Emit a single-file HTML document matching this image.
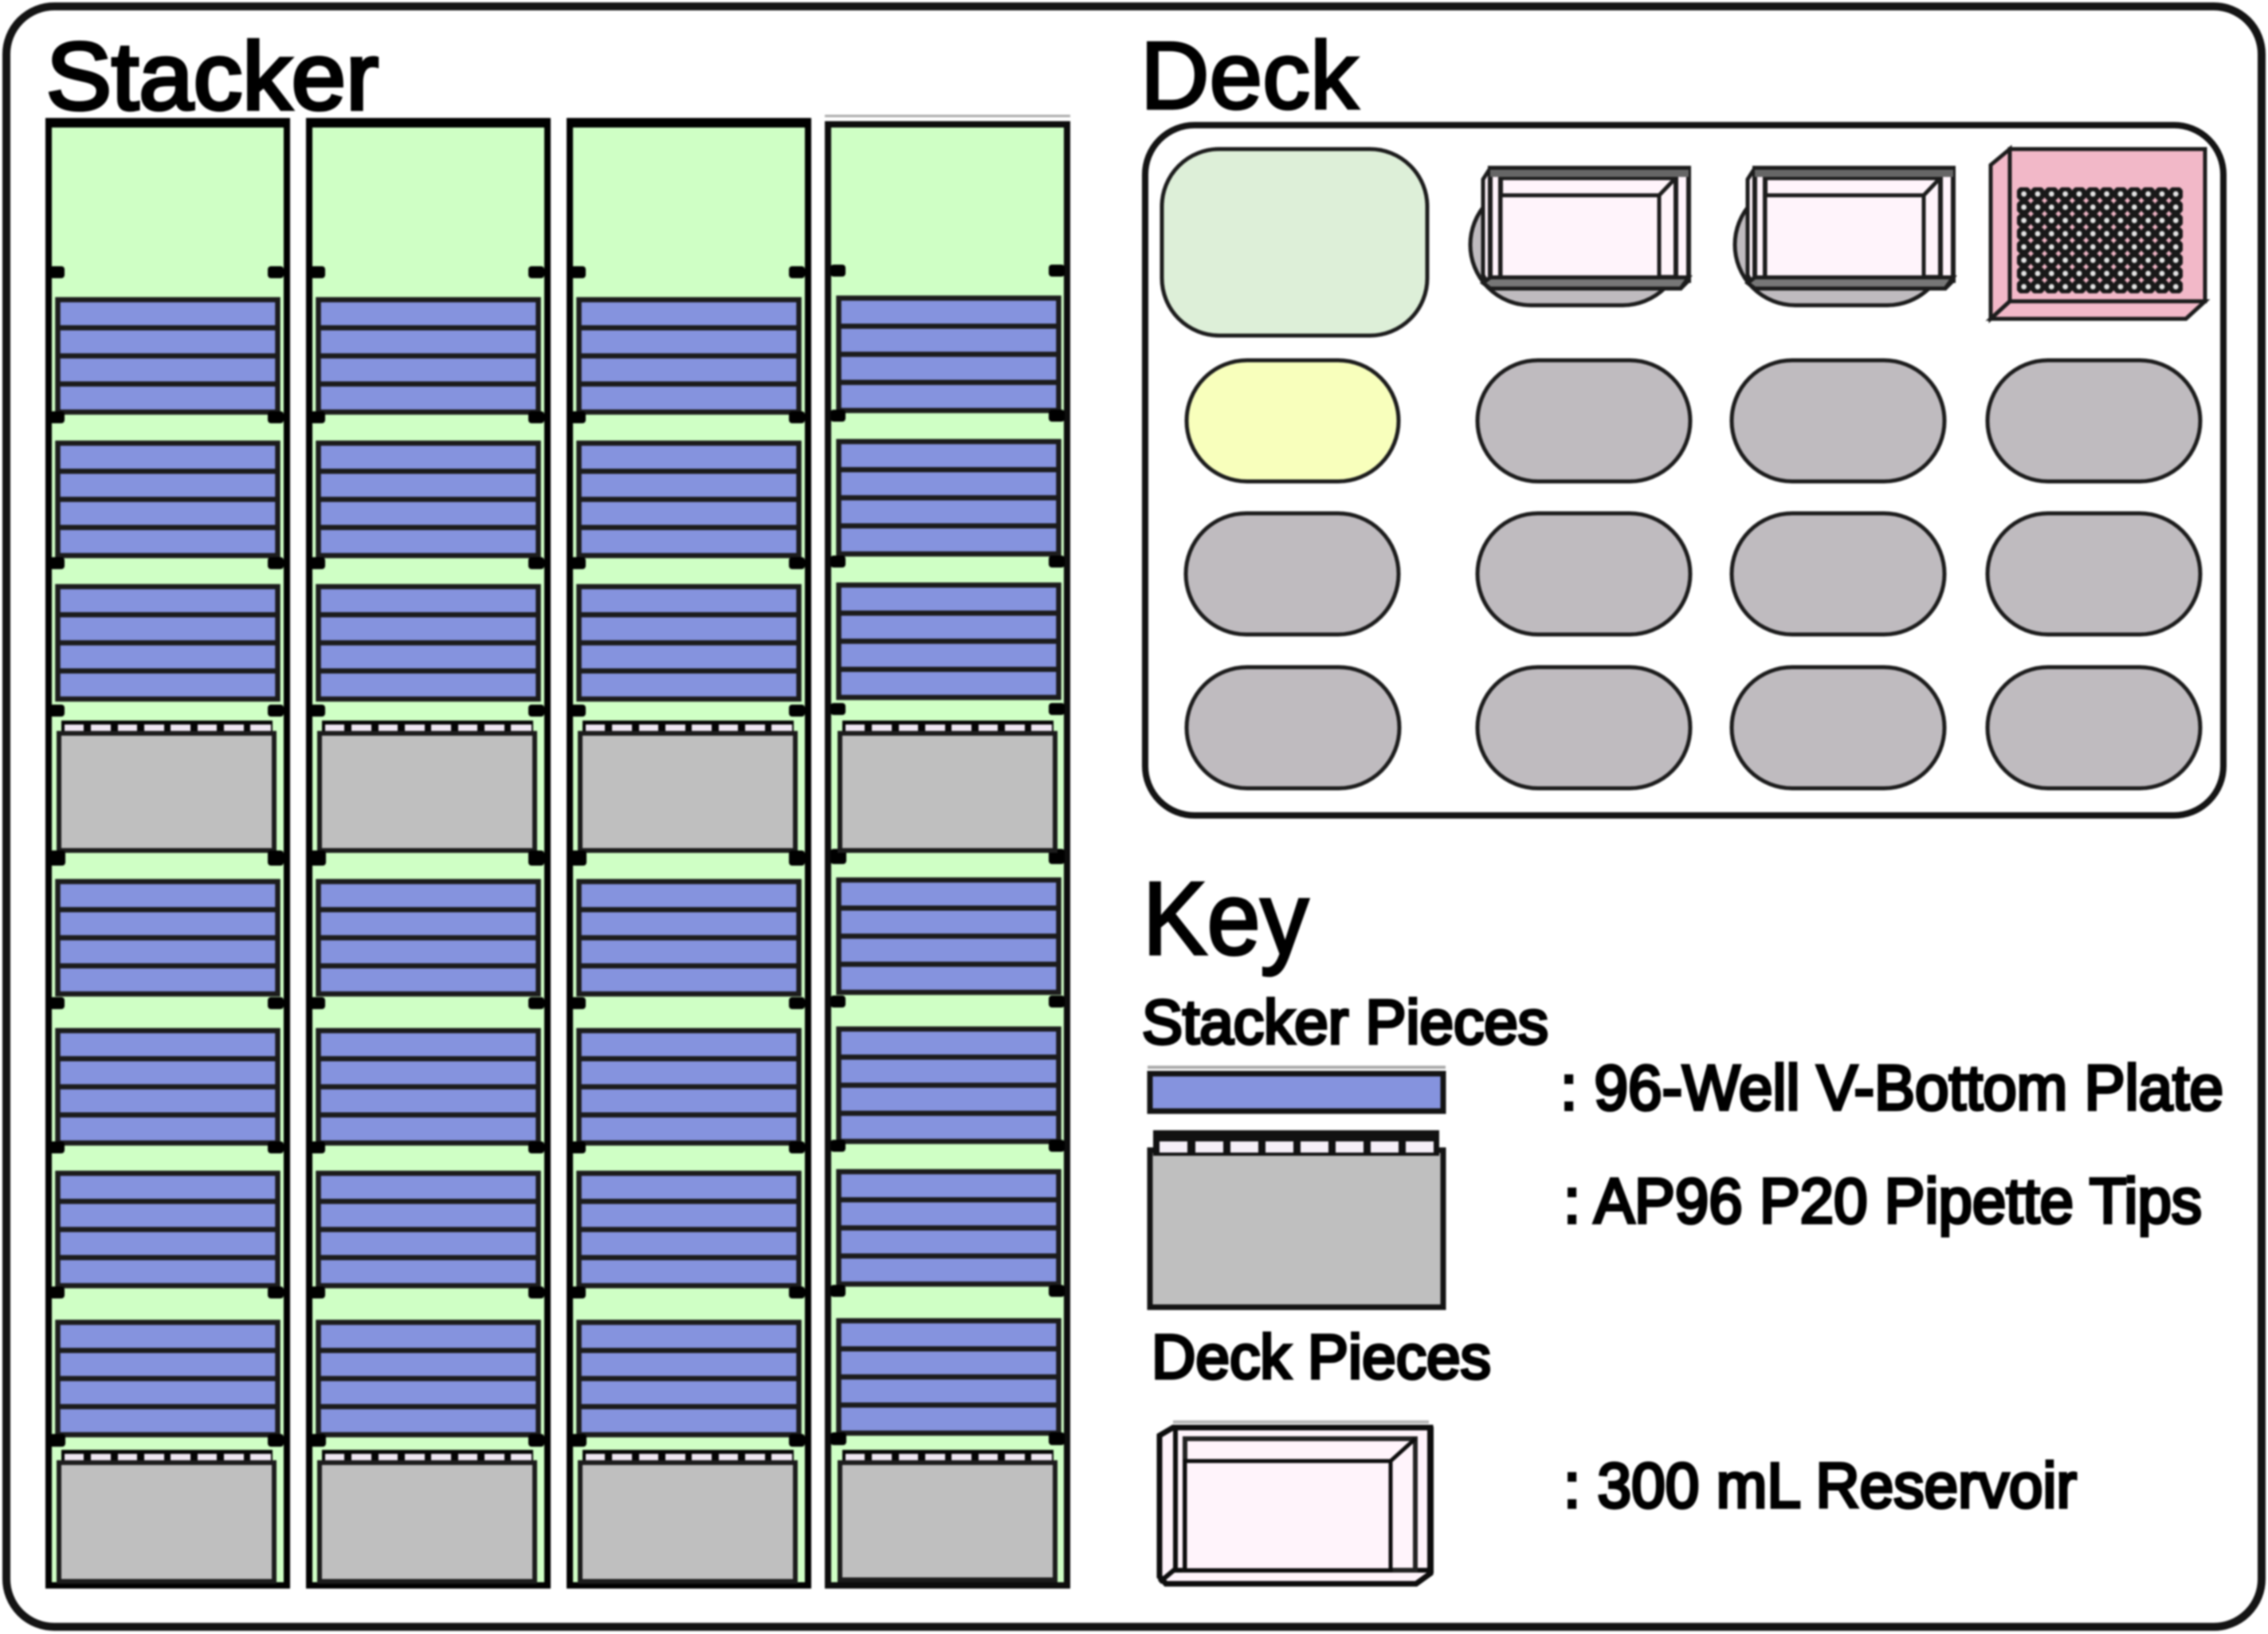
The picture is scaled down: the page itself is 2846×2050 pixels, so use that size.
<!DOCTYPE html>
<html>
<head>
<meta charset="utf-8">
<style>
html,body{margin:0;padding:0;background:#fff;width:2846px;height:2050px;overflow:hidden}
svg{display:block;filter:blur(1px)}
text{font-family:"Liberation Sans",Arial,sans-serif;fill:#000;stroke:#000}
</style>
</head>
<body>
<svg xmlns="http://www.w3.org/2000/svg" xmlns:xlink="http://www.w3.org/1999/xlink" width="2846" height="2050" viewBox="0 0 2846 2050">
<defs>
  <pattern id="wells" x="2531" y="235" width="17.33" height="16.63" patternUnits="userSpaceOnUse">
    <circle cx="8.66" cy="8.31" r="9.6" fill="#181818"/>
    <circle cx="8.66" cy="8.31" r="3.4" fill="#e4e4e4"/>
  </pattern>
  <g id="plates" fill="#8593de" stroke="#1c1c1c" stroke-width="6.5">
    <rect x="72.5" y="0" width="276" height="141"/>
    <path d="M72.5 35.3H348.5M72.5 70.5H348.5M72.5 105.8H348.5" fill="none"/>
  </g>
  <g id="teeth">
    <rect x="77" y="0" width="265" height="19" fill="#050505"/>
    <g fill="#efe6f2">
      <rect x="81" y="5" width="24" height="8"/><rect x="114" y="5" width="25" height="8"/>
      <rect x="148" y="5" width="24" height="8"/><rect x="181" y="5" width="25" height="8"/>
      <rect x="214" y="5" width="25" height="8"/><rect x="248" y="5" width="24" height="8"/>
      <rect x="281" y="5" width="25" height="8"/><rect x="314" y="5" width="26" height="8"/>
    </g>
  </g>
  <g id="tabs" fill="#000">
    <rect x="62" y="334" width="19" height="15" rx="4"/><rect x="336" y="334" width="20" height="15" rx="4"/>
    <rect x="62" y="516" width="19" height="15" rx="4"/><rect x="336" y="516" width="20" height="15" rx="4"/>
    <rect x="62" y="699" width="19" height="15" rx="4"/><rect x="336" y="699" width="20" height="15" rx="4"/>
    <rect x="62" y="884" width="19" height="15" rx="4"/><rect x="336" y="884" width="20" height="15" rx="4"/>
    <rect x="62" y="1067" width="20" height="19" rx="4"/><rect x="336" y="1067" width="20" height="19" rx="4"/>
    <rect x="62" y="1251" width="19" height="15" rx="4"/><rect x="336" y="1251" width="20" height="15" rx="4"/>
    <rect x="62" y="1432" width="19" height="15" rx="4"/><rect x="336" y="1432" width="20" height="15" rx="4"/>
    <rect x="62" y="1614" width="19" height="15" rx="4"/><rect x="336" y="1614" width="20" height="15" rx="4"/>
    <rect x="62" y="1799" width="20" height="16" rx="4"/><rect x="336" y="1799" width="20" height="16" rx="4"/>
  </g>
  <g id="stacks">
    <use xlink:href="#plates" y="376"/>
    <use xlink:href="#plates" y="556"/>
    <use xlink:href="#plates" y="736"/>
    <use xlink:href="#plates" y="1106"/>
    <use xlink:href="#plates" y="1293"/>
    <use xlink:href="#plates" y="1472"/>
    <use xlink:href="#plates" y="1659"/>
  </g>
  <g id="tips">
    <use xlink:href="#teeth" y="904"/>
    <rect x="74" y="920" width="270" height="147" fill="#bfbfbf" stroke="#1c1c1c" stroke-width="6"/>
    <use xlink:href="#teeth" y="1819"/>
  </g>
  <g id="frame">
    <rect x="61" y="154" width="299" height="1835" fill="#cfffc5" stroke="#000" stroke-width="8"/>
    <rect x="57" y="148" width="307" height="12" fill="#000"/>
  </g>
  <g id="col">
    <use xlink:href="#frame"/>
    <use xlink:href="#stacks"/>
    <use xlink:href="#tips"/>
    <rect x="74" y="1835" width="270" height="149" fill="#bfbfbf" stroke="#1c1c1c" stroke-width="6"/>
    <use xlink:href="#tabs"/>
  </g>
  <g id="res" stroke="#1c1c1c" stroke-width="5" fill="#fff4fb">
    <path d="M1873 211L1864 225V345L1873 362H2112L2122 352V211Z"/>
    <rect x="1873" y="211" width="249" height="141" stroke-width="6"/>
    <rect x="1886" y="223" width="220" height="125" stroke-width="6"/>
    <rect x="1886" y="245" width="199" height="103" stroke-width="5"/>
    <path d="M2085 245L2106 223" fill="none"/>
    <path d="M1864 355L1873 348H2122L2112 362H1873Z" fill="#777"/>
    <path d="M1873 213H2122V222H1873Z" fill="#666" stroke="none"/>
  </g>
  <g id="pill"><rect x="0" y="0" width="267" height="152" rx="76" ry="76" fill="#bfbbbf" stroke="#1c1c1c" stroke-width="5"/></g>
</defs>

<rect width="2846" height="2050" fill="#fff"/>
<rect x="8" y="8" width="2830" height="2033" rx="60" ry="60" fill="#fff" stroke="#141414" stroke-width="10"/>

<text x="58" y="137" font-size="120" stroke-width="4.5" textLength="417" lengthAdjust="spacingAndGlyphs">Stacker</text>
<text x="1431" y="136" font-size="120" stroke-width="3.5" textLength="273" lengthAdjust="spacingAndGlyphs">Deck</text>

<!-- columns -->
<use xlink:href="#col"/>
<g transform="translate(327 0)"><use xlink:href="#col"/></g>
<g transform="translate(654 0)"><use xlink:href="#col"/></g>
<g>
  <rect x="1035" y="144" width="308" height="3" fill="#aaa"/>
  <rect x="1039" y="156" width="300" height="1833" fill="#cfffc5" stroke="#0d0d0d" stroke-width="8"/>
  <g transform="translate(980 -2)"><use xlink:href="#stacks"/><use xlink:href="#tabs"/></g>
  <g transform="translate(980 0)">
    <use xlink:href="#tips"/>
    <rect x="74" y="1835" width="270" height="147" fill="#bfbfbf" stroke="#1c1c1c" stroke-width="6"/>
  </g>
</g>

<!-- deck -->
<rect x="1437" y="157" width="1353" height="866" rx="62" ry="62" fill="#fff" stroke="#141414" stroke-width="8"/>
<rect x="1458" y="187" width="333" height="234" rx="72" ry="72" fill="#ddefd8" stroke="#1c1c1c" stroke-width="5"/>

<use xlink:href="#pill" x="1845" y="231"/>
<use xlink:href="#res" x="-3"/>
<use xlink:href="#pill" x="2177" y="231"/>
<use xlink:href="#res" x="329"/>

<g stroke="#1c1c1c" stroke-width="5" transform="translate(-2 0)">
  <path d="M2524 187L2500 207V400L2524 378Z" fill="#f2b8c8"/>
  <path d="M2500 400L2524 378H2769L2745 400Z" fill="#f2b8c8"/>
  <rect x="2524" y="187" width="245" height="191" fill="#f2b8c8"/>
</g>
<rect x="2531" y="235" width="208" height="133" fill="url(#wells)"/>

<rect x="1489" y="452" width="266" height="152" rx="76" ry="76" fill="#f8ffbc" stroke="#1c1c1c" stroke-width="5"/>
<use xlink:href="#pill" x="1854" y="452"/><use xlink:href="#pill" x="2173" y="452"/><use xlink:href="#pill" x="2494" y="452"/>
<use xlink:href="#pill" x="1488" y="644"/><use xlink:href="#pill" x="1854" y="644"/><use xlink:href="#pill" x="2173" y="644"/><use xlink:href="#pill" x="2494" y="644"/>
<use xlink:href="#pill" x="1489" y="837"/><use xlink:href="#pill" x="1854" y="837"/><use xlink:href="#pill" x="2173" y="837"/><use xlink:href="#pill" x="2494" y="837"/>

<!-- key -->
<text x="1434" y="1197" font-size="130" stroke-width="3.5" textLength="208" lengthAdjust="spacingAndGlyphs">Key</text>
<text x="1433" y="1309" font-size="78" stroke-width="4" textLength="510" lengthAdjust="spacingAndGlyphs">Stacker Pieces</text>

<rect x="1440" y="1337" width="374" height="4" fill="#aaa"/>
<rect x="1443" y="1347" width="368" height="47" fill="#8593de" stroke="#141414" stroke-width="7"/>
<text x="1958" y="1392" font-size="80" stroke-width="4" textLength="832" lengthAdjust="spacingAndGlyphs">: 96-Well V-Bottom Plate</text>

<rect x="1443" y="1443" width="368" height="197" fill="#bfbfbf" stroke="#141414" stroke-width="7"/>
<rect x="1447" y="1418" width="359" height="32" fill="#111"/>
<g fill="#f6eff8">
  <rect x="1455" y="1432" width="35" height="14"/><rect x="1500" y="1432" width="35" height="14"/>
  <rect x="1544" y="1432" width="35" height="14"/><rect x="1588" y="1432" width="35" height="14"/>
  <rect x="1632" y="1432" width="35" height="14"/><rect x="1676" y="1432" width="35" height="14"/>
  <rect x="1720" y="1432" width="35" height="14"/><rect x="1764" y="1432" width="35" height="14"/>
</g>
<text x="1962" y="1534" font-size="80" stroke-width="4" textLength="801" lengthAdjust="spacingAndGlyphs">: AP96 P20 Pipette Tips</text>

<text x="1445" y="1729" font-size="78" stroke-width="4" textLength="426" lengthAdjust="spacingAndGlyphs">Deck Pieces</text>

<rect x="1472" y="1782" width="321" height="4" fill="#b5b5b5"/>
<g stroke="#0d0d0d" fill="#fff4fb">
  <path d="M1472 1791L1455 1801V1978L1463 1987H1777L1795 1974V1791Z" stroke-width="7"/>
  <path d="M1475 1791V1970M1455 1985L1473 1970H1795" fill="none" stroke-width="6"/>
  <rect x="1487" y="1805" width="289" height="165" stroke-width="6" stroke="#222"/>
  <rect x="1487" y="1833" width="258" height="137" stroke-width="5"/>
  <path d="M1745 1833L1776 1805" fill="none" stroke-width="5"/>
  <path d="M1795 1790V1974" stroke-width="8" fill="none"/>
</g>
<text x="1962" y="1891" font-size="80" stroke-width="4" textLength="644" lengthAdjust="spacingAndGlyphs">: 300 mL Reservoir</text>
</svg>
</body>
</html>
